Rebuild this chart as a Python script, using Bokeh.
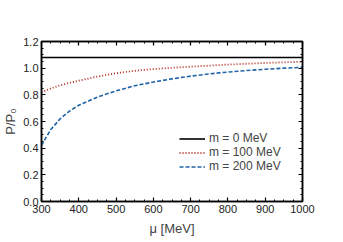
from bokeh.plotting import figure
from bokeh.models import (LinearAxis, Range1d, Legend, LegendItem, FixedTicker,
                          CustomJSTickFormatter, CustomLabelingPolicy)
from bokeh.embed import file_html
from bokeh.resources import INLINE

mu_black = [300, 1000]
p_black = [1.08, 1.08]

mu_red = [300, 325, 350, 375, 400, 450, 500, 550, 600, 650, 700, 750, 800, 850, 900, 950, 1000]
p_red = [0.82, 0.848, 0.871, 0.89, 0.906, 0.937, 0.962, 0.98, 0.993, 1.003, 1.011, 1.019, 1.027, 1.033, 1.039, 1.044, 1.048]

mu_blue = [300, 310, 325, 350, 375, 400, 450, 500, 550, 600, 650, 700, 750, 800, 850, 900, 950, 1000]
p_blue = [0.42, 0.47, 0.54, 0.62, 0.678, 0.722, 0.783, 0.83, 0.868, 0.896, 0.92, 0.94, 0.957, 0.971, 0.982, 0.992, 1.0, 1.006]

labels = ["m = 0 MeV", "m = 100 MeV", "m = 200 MeV"]
x_ticks = [300, 400, 500, 600, 700, 800, 900, 1000]
y_ticks = [0.0, 0.2, 0.4, 0.6, 0.8, 1.0, 1.2]
x_title = "μ [MeV]"
y_title = "P/P₀"

FONT = "Liberation Sans"

p = figure(width=343, height=242, output_backend="svg", toolbar_location=None,
           x_range=Range1d(300, 1000), y_range=Range1d(0, 1.2),
           min_border_left=40, min_border_right=41, min_border_top=41, min_border_bottom=41)
p.grid.visible = False
p.outline_line_color = "black"
p.outline_line_width = 1.5
p.background_fill_color = "white"
p.border_fill_color = "white"

r0 = p.line(mu_black, p_black, line_color="black", line_width=1.6)
r1 = p.line(mu_red, p_red, line_color="#b22a1e", line_width=1.8, line_dash="1 2")
r2 = p.line(mu_blue, p_blue, line_color="#1f63a8", line_width=1.6, line_dash="4 2")

def style(ax, show_labels=True):
    ax.major_tick_in = 4
    ax.major_tick_out = 0
    ax.minor_tick_in = 2
    ax.minor_tick_out = 0
    ax.axis_line_width = 1.5
    ax.axis_line_color = "black"
    ax.major_tick_line_width = 1.2
    ax.minor_tick_line_width = 1
    ax.major_label_text_font = FONT
    ax.major_label_text_font_size = "11px"
    ax.major_label_text_color = "#222222"
    ax.axis_label_text_font = FONT
    ax.axis_label_text_font_style = "normal"
    ax.axis_label_text_font_size = "13px"
    ax.major_label_standoff = 3
    ax.axis_label_standoff = 5
    if not show_labels:
        ax.major_label_policy = CustomLabelingPolicy(code="return new Set();")
        ax.major_label_standoff = 0

p.xaxis.ticker = FixedTicker(ticks=x_ticks, minor_ticks=list(range(300, 1001, 25)))
p.yaxis.ticker = FixedTicker(ticks=y_ticks, minor_ticks=[i * 0.05 for i in range(25)])
p.xaxis.axis_label = x_title
p.yaxis.axis_label = y_title
p.yaxis.formatter = CustomJSTickFormatter(code="return tick.toFixed(1);")
style(p.xaxis[0])
style(p.yaxis[0])
p.yaxis.axis_label_standoff = 2

top = LinearAxis(ticker=FixedTicker(ticks=x_ticks, minor_ticks=list(range(300, 1001, 25))))
right = LinearAxis(ticker=FixedTicker(ticks=y_ticks, minor_ticks=[i * 0.05 for i in range(25)]))
style(top, False)
style(right, False)
p.add_layout(top, "above")
p.add_layout(right, "right")

legend = Legend(items=[LegendItem(label=labels[0], renderers=[r0]),
                       LegendItem(label=labels[1], renderers=[r1]),
                       LegendItem(label=labels[2], renderers=[r2])],
                location=(138, 28))
legend.border_line_color = None
legend.background_fill_alpha = 0
legend.label_text_font = FONT
legend.label_text_font_size = "12px"
legend.label_height = 11
legend.glyph_height = 11
legend.glyph_width = 26
legend.spacing = -1
legend.padding = 2
legend.margin = 0
legend.label_standoff = 4
p.add_layout(legend, "center")

open("out.html", "w").write(file_html(p, INLINE))
